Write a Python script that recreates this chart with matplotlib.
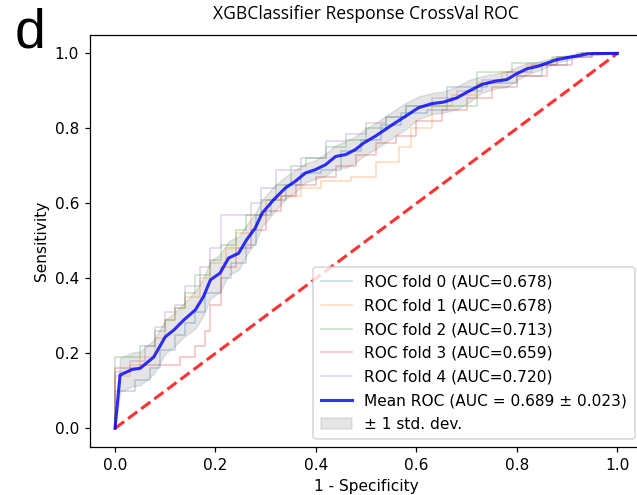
import matplotlib
matplotlib.use("Agg")
import matplotlib.pyplot as plt
import numpy as np

# Per-fold ROC corner points (false positive rate, true positive rate)
fold0_fpr = [0, 0, 0.04, 0.07, 0.09, 0.12, 0.14, 0.16, 0.18, 0.21, 0.23, 0.26, 0.28, 0.31, 0.34,
             0.37, 0.41, 0.45, 0.49, 0.53, 0.57, 0.62, 0.66, 0.74, 0.80, 0.85, 0.90, 0.95, 1.0]
fold0_tpr = [0, 0.10, 0.13, 0.16, 0.21, 0.25, 0.28, 0.31, 0.36, 0.40, 0.44, 0.49, 0.57, 0.61, 0.65,
             0.68, 0.69, 0.74, 0.77, 0.81, 0.84, 0.85, 0.91, 0.92, 0.94, 0.97, 0.99, 1.0, 1.0]

fold1_fpr = [0, 0, 0.03, 0.05, 0.08, 0.10, 0.12, 0.14, 0.17, 0.19, 0.22, 0.24, 0.27, 0.30, 0.33,
             0.37, 0.41, 0.47, 0.52, 0.565, 0.59, 0.63, 0.67, 0.72, 0.77, 0.82, 0.88, 0.93, 1.0]
fold1_tpr = [0, 0.14, 0.17, 0.19, 0.24, 0.29, 0.32, 0.35, 0.40, 0.44, 0.48, 0.52, 0.57, 0.61, 0.62,
             0.64, 0.66, 0.67, 0.71, 0.75, 0.80, 0.86, 0.89, 0.92, 0.95, 0.97, 0.99, 1.0, 1.0]

fold2_fpr = [0, 0, 0.05, 0.08, 0.10, 0.12, 0.14, 0.16, 0.19, 0.21, 0.24, 0.26, 0.29, 0.32, 0.35,
             0.38, 0.42, 0.46, 0.50, 0.54, 0.58, 0.72, 0.79, 0.87, 0.92, 1.0]
fold2_tpr = [0, 0.19, 0.22, 0.26, 0.29, 0.32, 0.36, 0.41, 0.45, 0.49, 0.53, 0.57, 0.61, 0.65, 0.70,
             0.72, 0.75, 0.77, 0.80, 0.83, 0.86, 0.95, 0.975, 0.99, 1.0, 1.0]

fold3_fpr = [0, 0, 0.05, 0.13, 0.16, 0.18, 0.19, 0.21, 0.24, 0.27, 0.30, 0.33, 0.36, 0.40, 0.44,
             0.48, 0.52, 0.56, 0.60, 0.65, 0.70, 0.75, 0.80, 0.86, 0.91, 0.95, 1.0]
fold3_tpr = [0, 0.16, 0.17, 0.19, 0.22, 0.26, 0.33, 0.43, 0.48, 0.53, 0.58, 0.62, 0.65, 0.67, 0.70,
             0.73, 0.76, 0.78, 0.82, 0.85, 0.88, 0.91, 0.94, 0.97, 0.99, 1.0, 1.0]

fold4_fpr = [0, 0, 0.03, 0.06, 0.08, 0.10, 0.12, 0.14, 0.17, 0.19, 0.21, 0.27, 0.29, 0.32, 0.37,
             0.42, 0.46, 0.50, 0.54, 0.58, 0.63, 0.68, 0.73, 0.78, 0.83, 0.88, 0.93, 1.0]
fold4_tpr = [0, 0.15, 0.18, 0.22, 0.27, 0.31, 0.33, 0.38, 0.43, 0.48, 0.57, 0.60, 0.64, 0.69, 0.72,
             0.765, 0.785, 0.815, 0.83, 0.86, 0.88, 0.90, 0.93, 0.95, 0.97, 0.99, 1.0, 1.0]

fold_aucs = [0.678, 0.678, 0.713, 0.659, 0.720]

# Mean ROC across folds and its standard deviation
mean_fpr = [0.0, 0.0101, 0.034, 0.05, 0.077, 0.10, 0.117, 0.137, 0.16, 0.176, 0.19, 0.209,
            0.226, 0.246, 0.262, 0.279, 0.293, 0.316, 0.339, 0.359, 0.379, 0.399, 0.419,
            0.439, 0.459, 0.478, 0.495, 0.518, 0.538, 0.558, 0.578, 0.604, 0.631, 0.654,
            0.680, 0.704, 0.730, 0.757, 0.780, 0.797, 0.820, 0.843, 0.876, 0.909, 0.942, 1.0]
mean_tpr = [0.0, 0.142, 0.157, 0.160, 0.190, 0.244, 0.262, 0.289, 0.316, 0.351, 0.396, 0.414,
            0.454, 0.467, 0.503, 0.534, 0.574, 0.610, 0.641, 0.659, 0.681, 0.690, 0.703,
            0.725, 0.730, 0.743, 0.761, 0.779, 0.797, 0.815, 0.832, 0.855, 0.866, 0.870,
            0.881, 0.899, 0.917, 0.926, 0.930, 0.944, 0.959, 0.966, 0.982, 0.991, 0.999, 1.0]
std_tpr = [0.0, 0.045, 0.045, 0.045, 0.045, 0.045, 0.045, 0.045, 0.05, 0.05, 0.05, 0.05,
           0.045, 0.045, 0.04, 0.04, 0.035, 0.035, 0.03, 0.03, 0.025, 0.025, 0.03,
           0.03, 0.035, 0.035, 0.035, 0.035, 0.035, 0.035, 0.035, 0.03, 0.028, 0.028,
           0.03, 0.03, 0.022, 0.02, 0.02, 0.018, 0.015, 0.012, 0.008, 0.005, 0.002, 0.0]
mean_auc = 0.689
std_auc = 0.023

fold_fprs = [fold0_fpr, fold1_fpr, fold2_fpr, fold3_fpr, fold4_fpr]
fold_tprs = [fold0_tpr, fold1_tpr, fold2_tpr, fold3_tpr, fold4_tpr]

DPI = 111
fig = plt.figure(figsize=(637 / DPI, 495 / DPI), dpi=DPI)
ax = fig.add_axes([0.1411, 0.0968, 0.8677, 0.8333])

for i, (fp, tp) in enumerate(zip(fold_fprs, fold_tprs)):
    ax.step(fp, tp, where="post", lw=1, alpha=0.3,
            label="ROC fold %d (AUC=%0.3f)" % (i, fold_aucs[i]))

ax.plot([0, 1], [0, 1], linestyle="--", lw=2, color="r", alpha=0.8)

mt = np.array(mean_tpr)
sd = np.array(std_tpr)
ax.plot(mean_fpr, mt, color="b", lw=2, alpha=0.8,
        label="Mean ROC (AUC = %0.3f \u00b1 %0.3f)" % (mean_auc, std_auc))
ax.fill_between(mean_fpr, np.maximum(mt - sd, 0), np.minimum(mt + sd, 1),
                color="grey", alpha=0.2, label="\u00b1 1 std. dev.")

ax.set_xlim(-0.05, 1.05)
ax.set_ylim(-0.05, 1.05)
ax.set_xlabel("1 - Specificity")
ax.set_ylabel("Sensitivity")
ax.set_title("XGBClassifier Response CrossVal ROC", family="Open Sans", fontsize=11.4, pad=10)
ax.legend(loc="lower right", labelspacing=0.56, borderpad=0.5)

fig.text(15 / 637, 1 - 47 / 495, "d", fontsize=36, family="Liberation Sans", va="baseline")

fig.savefig("out.png", dpi=DPI)
